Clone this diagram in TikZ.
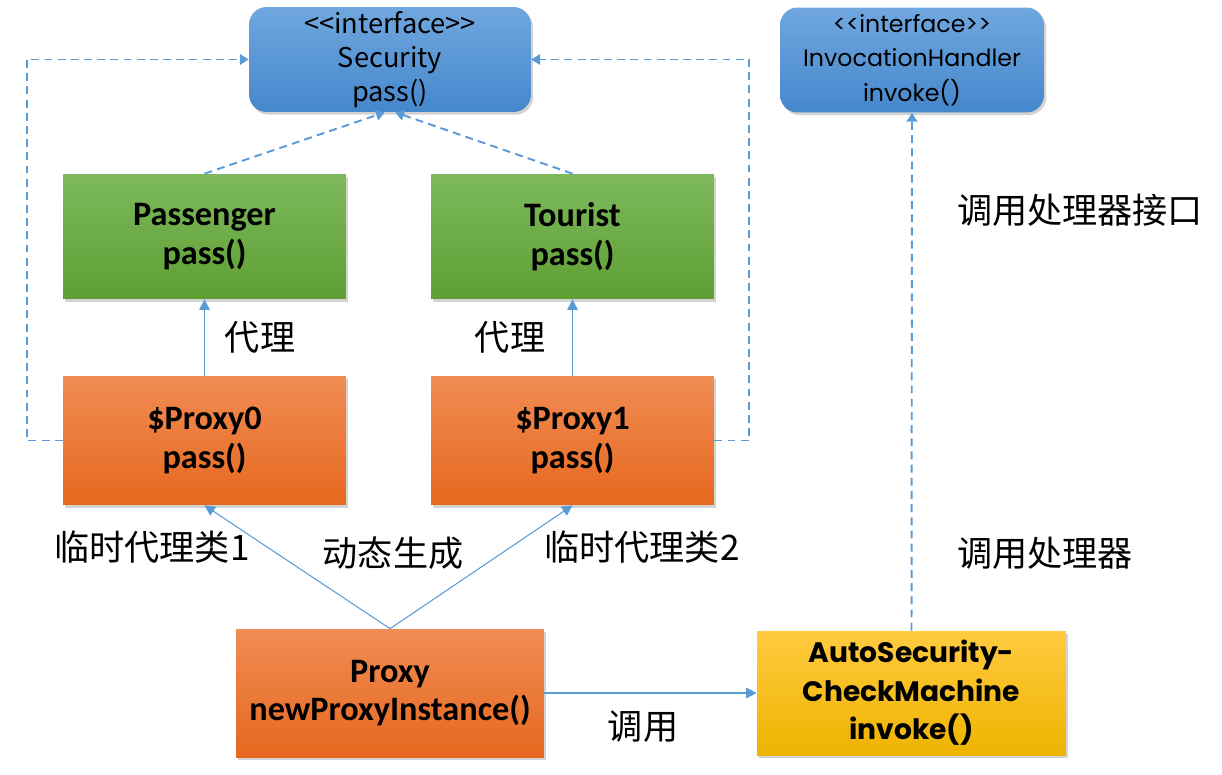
\documentclass[tikz,border=0pt]{standalone}
\usepackage{fontspec}
\setmainfont{Carlito}
\newfontfamily\cjk{Noto Sans CJK SC}
\newfontfamily\geo{Poppins}
\usetikzlibrary{arrows.meta, shadows}

\definecolor{lineblue}{HTML}{5B9BD5}
\definecolor{blueTop}{HTML}{70A7DF}
\definecolor{blueBot}{HTML}{4587CC}
\definecolor{greenTop}{HTML}{7DB95C}
\definecolor{greenBot}{HTML}{5E9F33}
\definecolor{orangeTop}{HTML}{F18C54}
\definecolor{orangeBot}{HTML}{E5681E}
\definecolor{goldTop}{HTML}{FFCA40}
\definecolor{goldBot}{HTML}{EEB400}

\begin{document}
\begin{tikzpicture}[x=0.02cm, y=-0.02cm,
  box/.style={rectangle, inner sep=0pt, align=center, text=black,
    drop shadow={opacity=0.35, shadow xshift=1.2pt, shadow yshift=-1.5pt}},
  iface/.style={box, rounded corners=10pt, top color=blueTop, bottom color=blueBot,
    font=\cjk\fontsize{15.5}{19.5}\selectfont, minimum height=2.1cm},
  cls/.style={box, top color=greenTop, bottom color=greenBot,
    font=\bfseries\fontsize{19.5}{22}\selectfont, minimum width=5.66cm, minimum height=2.5cm},
  prx/.style={box, top color=orangeTop, bottom color=orangeBot,
    font=\bfseries\fontsize{19.5}{22}\selectfont, minimum width=5.66cm, minimum height=2.58cm},
  lbl/.style={font=\cjk\fontsize{20}{24}\selectfont},
  dep/.style={draw=lineblue, line width=1.1pt, dash pattern=on 4.5pt off 3pt, -{Triangle[length=5pt,width=6pt]}},
  use/.style={draw=lineblue, line width=0.6pt, -{Triangle[length=6pt,width=6pt]}}]
\useasboundingbox (0,0) rectangle (1222,774);

% interfaces
\node[iface, minimum width=5.64cm] (sec) at (390,59.5) {<<interface>>\\Security\\pass()};
\node[iface, minimum width=5.28cm, font=\geo\fontsize{13.5}{19.5}\selectfont] (ih) at (912,60) {<<interface>>\\InvocationHandler\\invoke()};

% real classes
\node[cls] (pas) at (204.5,236.5) {Passenger\\pass()};
\node[cls] (tou) at (572.5,236.5) {Tourist\\pass()};

% generated proxies
\node[prx] (px0) at (204.5,440.5) {\$Proxy0\\pass()};
\node[prx] (px1) at (572.5,440.5) {\$Proxy1\\pass()};
\node[prx, minimum width=6.16cm, minimum height=2.56cm] (prox) at (390,693) {Proxy\\newProxyInstance()};
\node[box, top color=goldTop, bottom color=goldBot,
  minimum width=6.18cm, minimum height=2.48cm, font=\geo\bfseries\fontsize{16}{22}\selectfont] (auto) at (911.5,693)
  {AutoSecurity-\\CheckMachine\\invoke()};

% connectors
\draw[dep] (pas.north) -- ([xshift=-3pt]sec.south);
\draw[dep] (tou.north) -- ([xshift=3pt]sec.south);
\draw[dep] (px0.west) -- ++(-36,0) |- (sec.west);
\draw[dep] (px1.east) -- ++(35,0) |- (sec.east);
\draw[use] (px0.north) -- (pas.south);
\draw[use] (px1.north) -- (tou.south);
\draw[use] (prox.north) -- (px0.south);
\draw[use] (prox.north) -- (px1.south);
\draw[use] (prox.east) -- (auto.west);
\draw[dep] (auto.north) -- (ih.south);

% labels
\node[lbl] (l1) at (260,337) {代理};
\node[lbl] (l2) at (510,337) {代理};
\node[lbl] (l3) at (152,547) {临时代理类1};
\node[lbl] (l4) at (393,553) {动态生成};
\node[lbl] (l5) at (642,547) {临时代理类2};
\node[lbl] (l6) at (643,727) {调用};
\node[lbl] (l7) at (1080,210) {调用处理器接口};
\node[lbl] (l8) at (1045,553) {调用处理器};
\end{tikzpicture}
\end{document}
